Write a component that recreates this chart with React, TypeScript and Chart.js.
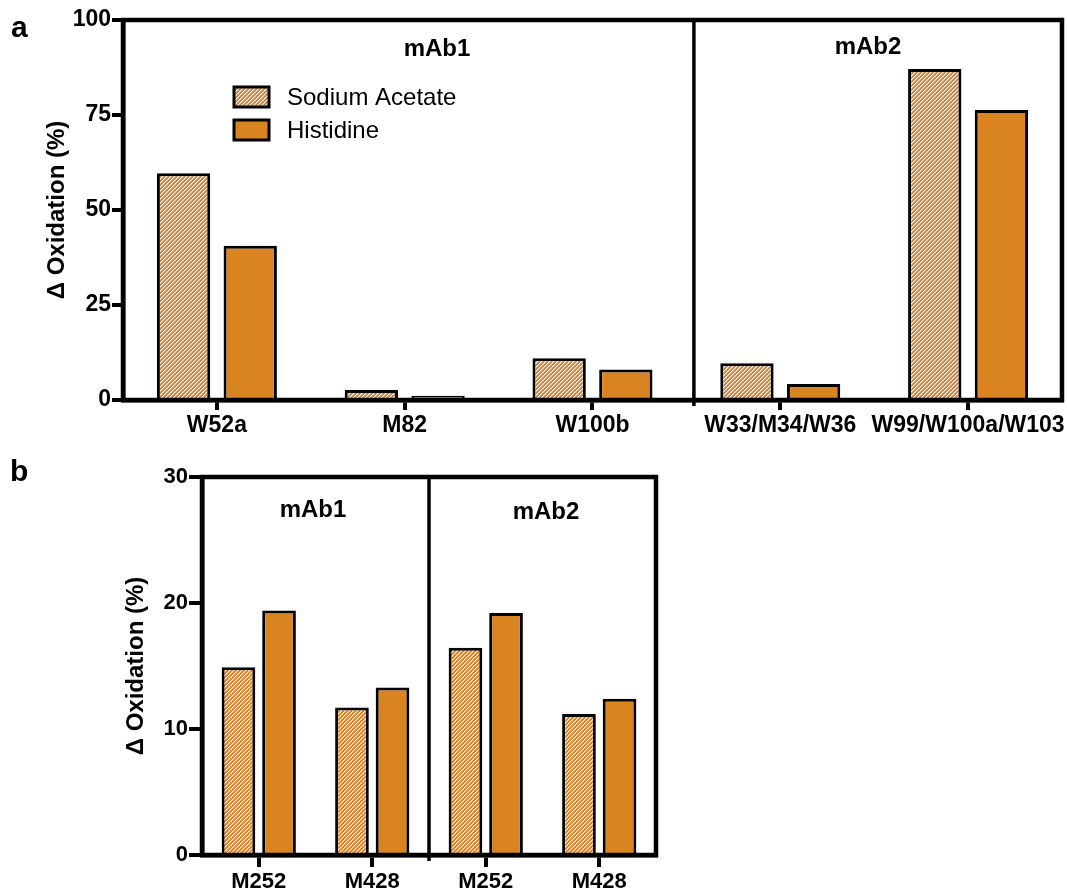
import React, { useEffect, useRef } from 'react';
import { Chart, registerables } from 'chart.js';

Chart.register(...registerables);

// ---------- data ----------
const topCategories = ['W52a', 'M82', 'W100b', 'W33/M34/W36', 'W99/W100a/W103'];
const topSodiumAcetate = [59.7, 2.6, 11.0, 9.7, 87.1];
const topHistidine = [40.6, 1.1, 8.0, 4.2, 76.3];
const topYMax = 100;
const topYStep = 25;

const bottomCategories = ['M252', 'M428', 'M252', 'M428'];
const bottomSodiumAcetate = [14.9, 11.7, 16.45, 11.2];
const bottomHistidine = [19.4, 13.3, 19.2, 12.4];
const bottomYMax = 30;
const bottomYStep = 10;

const seriesNames = ['Sodium Acetate', 'Histidine'];
const groupNames = ['mAb1', 'mAb2'];
const yTitle = 'Δ Oxidation (%)';

// ---------- style ----------
const FONT = '"Liberation Sans", Arial, Helvetica, sans-serif';
const ORANGE = '#D98420';
const HATCH = [220, 128, 46];
const HATCH_MID = [238, 176, 120];

function makeHatch(ctx: CanvasRenderingContext2D): CanvasPattern {
  const c = document.createElement('canvas');
  const s = 4;
  c.width = s;
  c.height = s;
  const g = c.getContext('2d')!;
  const img = g.createImageData(s, s);
  for (let y = 0; y < s; y++) {
    for (let x = 0; x < s; x++) {
      const k = (x + y) % 4;
      const i = (y * s + x) * 4;
      let col = [255, 255, 255];
      if (k === 0 || k === 1) col = HATCH;
      else if (k === 3) col = HATCH_MID;
      img.data[i] = col[0];
      img.data[i + 1] = col[1];
      img.data[i + 2] = col[2];
      img.data[i + 3] = 255;
    }
  }
  g.putImageData(img, 0, 0);
  return ctx.createPattern(c, 'repeat')!;
}

type Extra = {
  dividerValue: number;
  labels: { text: string; x: number; y: number }[];
  titleX: number;
  legend?: { boxX: number; boxW: number; boxH: number; rows: number[]; textX: number };
  axisW: number;
};

function decorPlugin(extra: Extra, pattern: CanvasPattern) {
  return {
    id: 'decor',
    afterDatasetsDraw(chart: any) {
      const { ctx, chartArea } = chart;
      const { left, right, top, bottom } = chartArea;
      const xs = chart.scales.x;
      ctx.save();
      ctx.strokeStyle = '#000';
      ctx.lineWidth = extra.axisW;
      ctx.lineCap = 'square';
      ctx.beginPath();
      ctx.moveTo(left, bottom);
      ctx.lineTo(left, top);
      ctx.lineTo(right, top);
      ctx.lineTo(right, bottom);
      ctx.lineTo(left, bottom);
      ctx.stroke();
      // divider between groups
      const dx = xs.getPixelForValue(extra.dividerValue);
      ctx.lineWidth = 3.5;
      ctx.lineCap = 'butt';
      ctx.beginPath();
      ctx.moveTo(dx, top);
      ctx.lineTo(dx, bottom + 6);
      ctx.stroke();

      // group labels
      ctx.fillStyle = '#000';
      ctx.font = `bold 24px ${FONT}`;
      ctx.textAlign = 'center';
      ctx.textBaseline = 'middle';
      extra.labels.forEach((l) => ctx.fillText(l.text, l.x, l.y));

      // y title
      ctx.save();
      ctx.translate(extra.titleX, (top + bottom) / 2);
      ctx.rotate(-Math.PI / 2);
      ctx.font = `bold 24px ${FONT}`;
      ctx.fillText(yTitle, 0, 0);
      ctx.restore();

      // legend
      if (extra.legend) {
        const lg = extra.legend;
        const fills = [pattern, ORANGE];
        lg.rows.forEach((cy, i) => {
          ctx.fillStyle = fills[i] as any;
          ctx.fillRect(lg.boxX, cy - lg.boxH / 2, lg.boxW, lg.boxH);
          ctx.lineWidth = 3;
          ctx.strokeStyle = '#000';
          ctx.strokeRect(lg.boxX, cy - lg.boxH / 2, lg.boxW, lg.boxH);
          ctx.fillStyle = '#000';
          ctx.font = `24px ${FONT}`;
          ctx.textAlign = 'left';
          ctx.textBaseline = 'middle';
          ctx.fillText(seriesNames[i], lg.textX, cy + 1);
        });
      }
      ctx.restore();
    },
  };
}

function buildChart(
  canvas: HTMLCanvasElement,
  categories: string[],
  s1: number[],
  s2: number[],
  yMax: number,
  yStep: number,
  pad: { top: number; right: number },
  yAxisWidth: number,
  xAxisHeight: number,
  yTickLen: number,
  xTickLen: number,
  catPct: number,
  barPct: number,
  fontSize: number,
  extra: Extra
) {
  const ctx = canvas.getContext('2d')!;
  const pattern = makeHatch(ctx);
  return new Chart(ctx, {
    type: 'bar',
    data: {
      labels: categories,
      datasets: [
        {
          label: seriesNames[0],
          data: s1,
          backgroundColor: pattern as any,
          borderColor: '#000',
          borderWidth: 3,
          categoryPercentage: catPct,
          barPercentage: barPct,
        },
        {
          label: seriesNames[1],
          data: s2,
          backgroundColor: ORANGE,
          borderColor: '#000',
          borderWidth: 3,
          categoryPercentage: catPct,
          barPercentage: barPct,
        },
      ],
    },
    options: {
      responsive: false,
      maintainAspectRatio: false,
      animation: false,
      devicePixelRatio: 1,
      layout: { padding: { top: pad.top, right: pad.right, left: 0, bottom: 0 } },
      plugins: { legend: { display: false }, tooltip: { enabled: false }, title: { display: false } },
      scales: {
        x: {
          offset: true,
          grid: {
            display: true,
            drawOnChartArea: false,
            drawTicks: true,
            tickLength: xTickLen,
            lineWidth: 4,
            color: '#000',
            offset: false,
          },
          border: { display: true, color: '#000', width: extra.axisW },
          ticks: {
            color: '#000',
            font: { family: FONT, size: fontSize, weight: 'bold' },
            padding: 2,
            maxRotation: 0,
            minRotation: 0,
            autoSkip: false,
          },
          afterFit: (s: any) => {
            s.height = xAxisHeight;
          },
        },
        y: {
          min: 0,
          max: yMax,
          grid: {
            display: true,
            drawOnChartArea: false,
            drawTicks: true,
            tickLength: yTickLen,
            lineWidth: 4,
            color: '#000',
          },
          border: { display: true, color: '#000', width: extra.axisW },
          ticks: {
            stepSize: yStep,
            color: '#000',
            font: { family: FONT, size: fontSize, weight: 'bold' },
            padding: 1,
          },
          afterFit: (s: any) => {
            s.width = yAxisWidth;
          },
        },
      },
    },
    plugins: [decorPlugin(extra, pattern) as any],
  });
}

export default function App() {
  const topRef = useRef<HTMLCanvasElement>(null);
  const botRef = useRef<HTMLCanvasElement>(null);

  useEffect(() => {
    document.body.style.margin = '0';
    const top = buildChart(
      topRef.current!,
      topCategories,
      topSodiumAcetate,
      topHistidine,
      topYMax,
      topYStep,
      { top: 20, right: 4 },
      123,
      45,
      11,
      10,
      0.71,
      0.8,
      23,
      {
        dividerValue: 2.54,
        labels: [
          { text: groupNames[0], x: 437, y: 49 },
          { text: groupNames[1], x: 868, y: 47 },
        ],
        titleX: 57,
        legend: { boxX: 234, boxW: 35, boxH: 20, rows: [97, 130], textX: 287 },
        axisW: 4.5,
      }
    );
    const bot = buildChart(
      botRef.current!,
      bottomCategories,
      bottomSodiumAcetate,
      bottomHistidine,
      bottomYMax,
      bottomYStep,
      { top: 32, right: 411 },
      202,
      34,
      13,
      12,
      0.715,
      0.83,
      22,
      {
        dividerValue: 1.5,
        labels: [
          { text: groupNames[0], x: 313, y: 65 },
          { text: groupNames[1], x: 546, y: 67 },
        ],
        titleX: 136,
        axisW: 4.5,
      }
    );
    return () => {
      top.destroy();
      bot.destroy();
    };
  }, []);

  const letter: React.CSSProperties = {
    position: 'absolute',
    fontFamily: FONT,
    fontWeight: 'bold',
    fontSize: 30,
    lineHeight: 1,
    color: '#000',
  };

  return (
    <div style={{ position: 'relative', width: 1067, height: 889, background: '#fff', overflow: 'hidden' }}>
      <canvas ref={topRef} width={1067} height={445} style={{ position: 'absolute', left: 0, top: 0 }} />
      <canvas ref={botRef} width={1067} height={444} style={{ position: 'absolute', left: 0, top: 445 }} />
      <div style={{ ...letter, left: 11, top: 12 }}>a</div>
      <div style={{ ...letter, left: 10, top: 456 }}>b</div>
    </div>
  );
}
